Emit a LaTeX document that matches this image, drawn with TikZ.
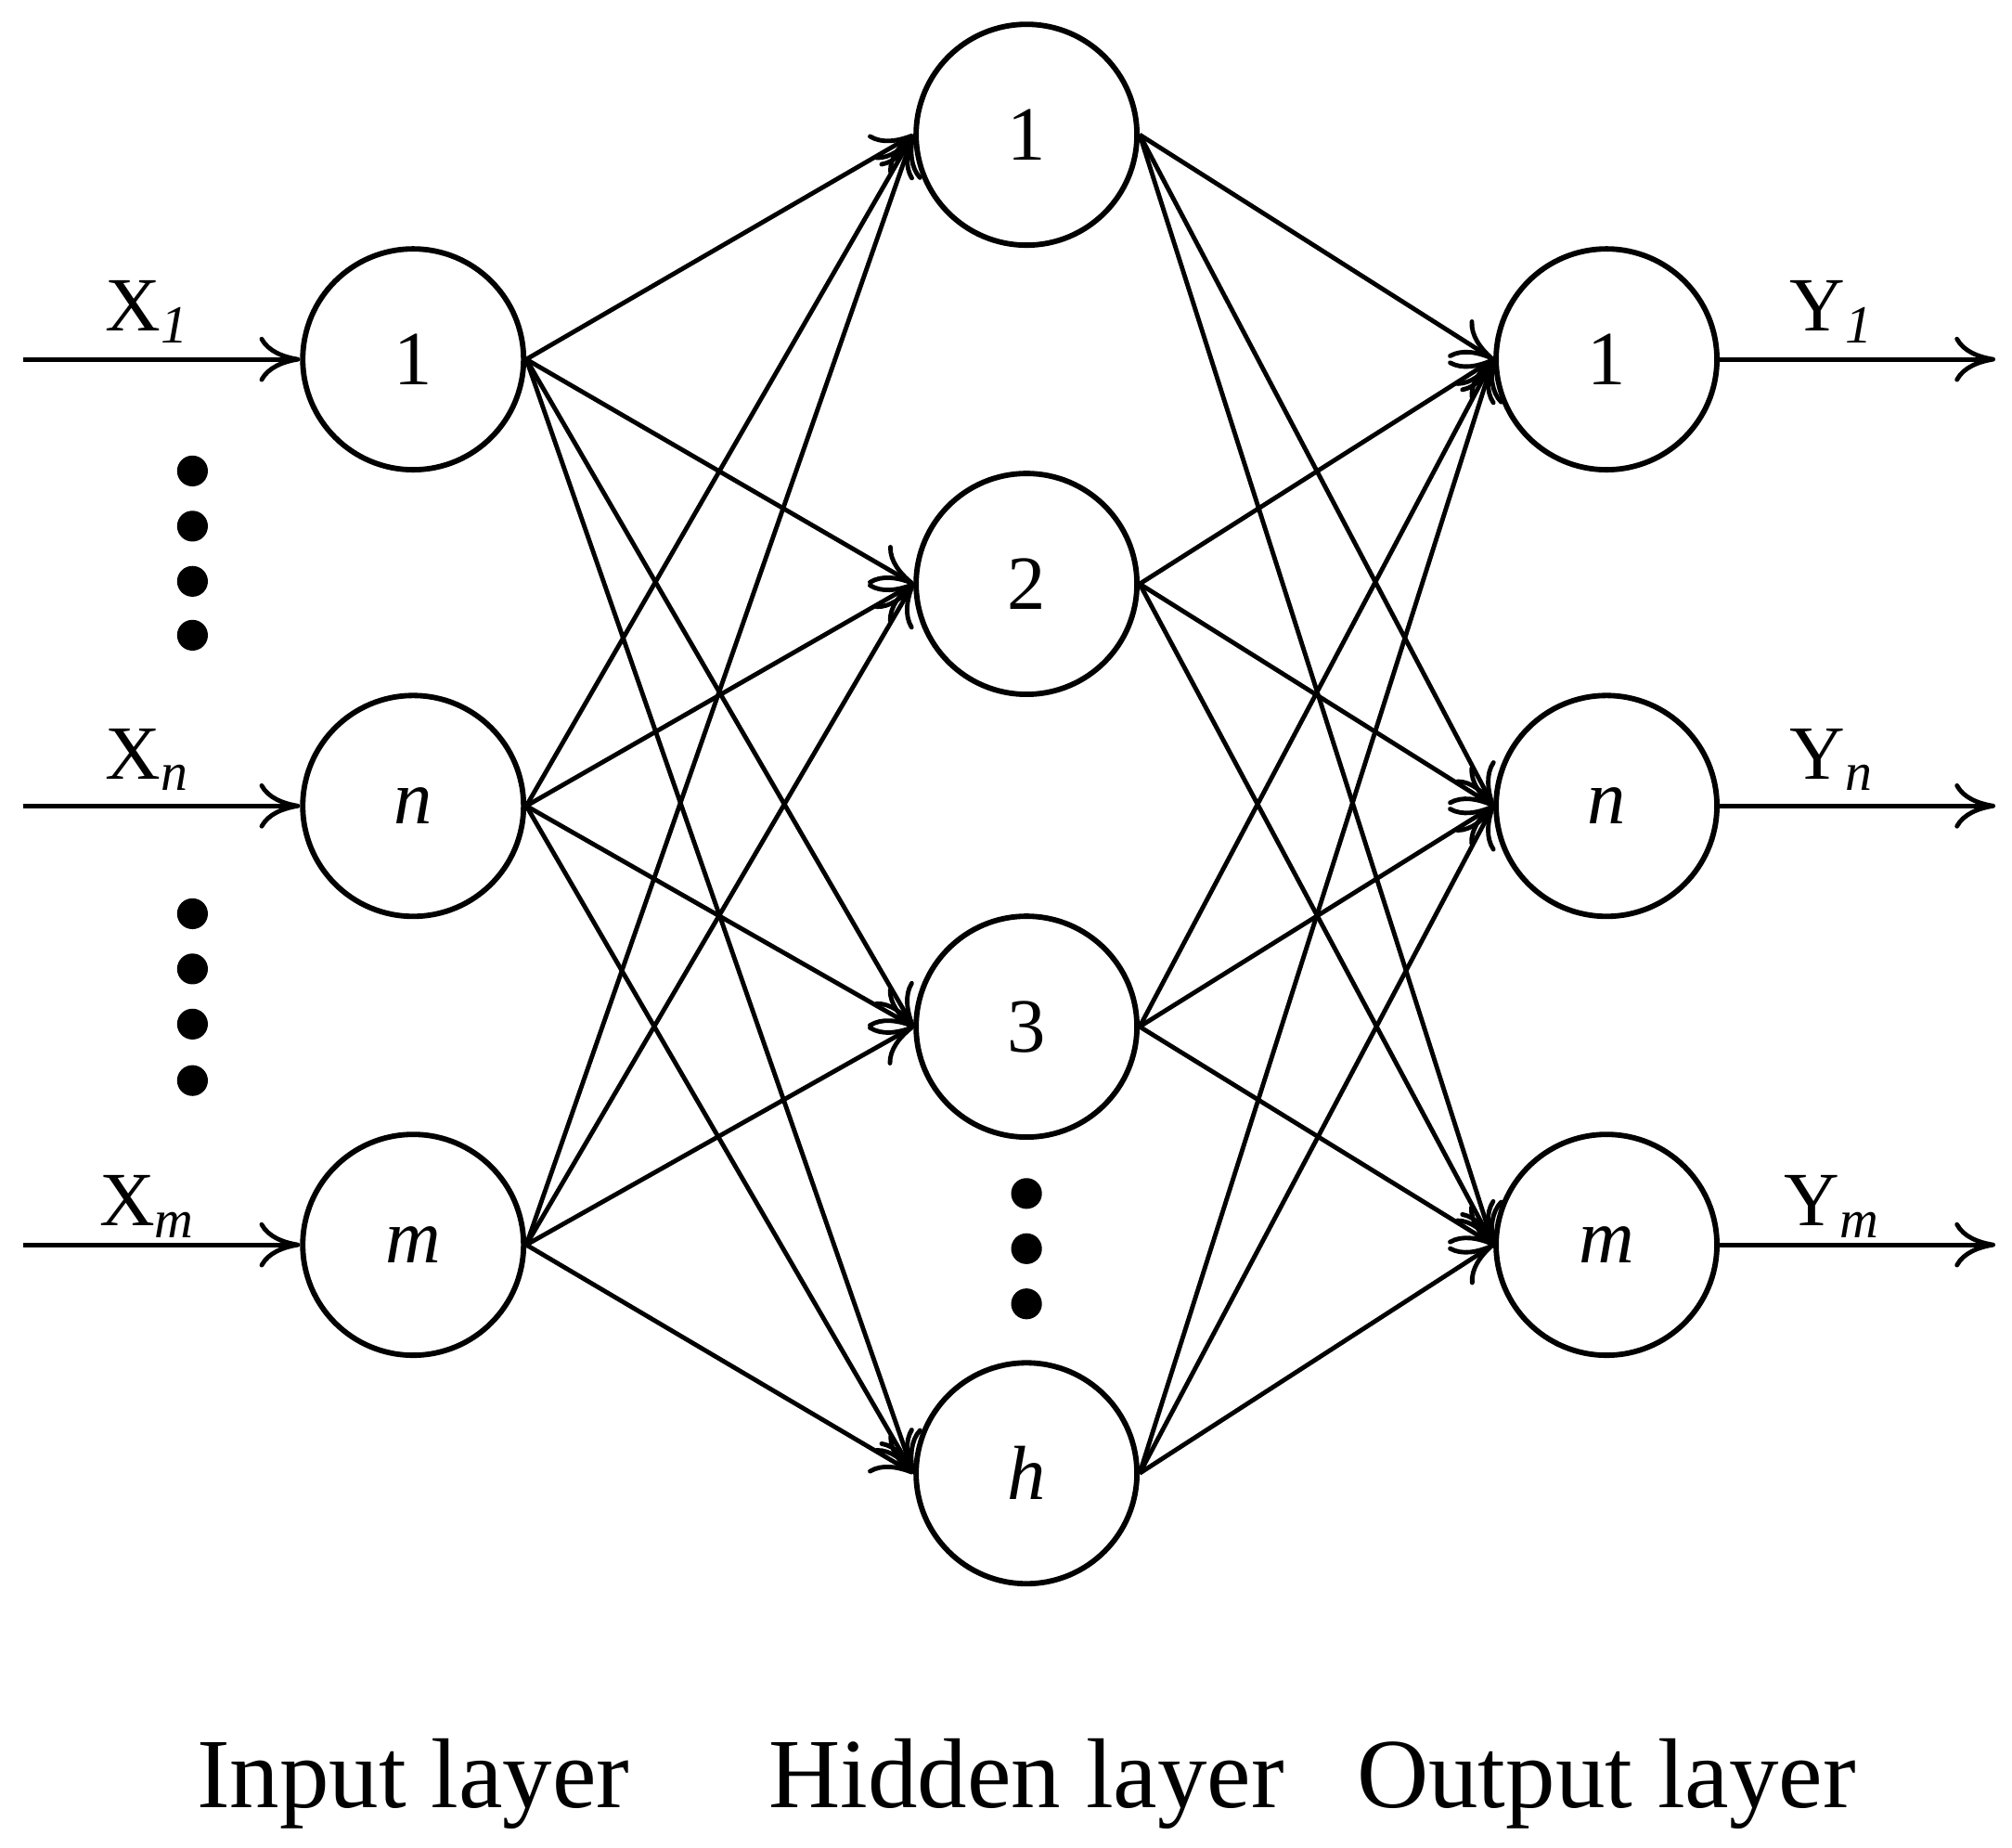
\documentclass[tikz,border=0pt]{standalone}
\usepackage{fontspec}
\setmainfont{Liberation Serif}
\usetikzlibrary{arrows.meta}
\begin{document}
\begin{tikzpicture}[x=0.01cm,y=-0.01cm,
  neuron/.style={circle,draw,line width=1.2pt,minimum size=1.72cm,inner sep=0pt,font=\fontsize{17}{20}\selectfont},
  conn/.style={line width=1pt,-{To[length=9pt,width=10pt]}},
  dot/.style={circle,fill=black,inner sep=0pt,minimum size=0.24cm},
  lbl/.style={font=\fontsize{17}{20}\selectfont},
  layer/.style={font=\fontsize{22}{26}\selectfont}]
\useasboundingbox (0,0) rectangle (1568,1440);
\node[neuron] (i1) at (322,280) {1};
\node[neuron] (i2) at (322,628) {\textit{n}};
\node[neuron] (i3) at (322,970) {\textit{m}};
\node[neuron] (h1) at (800,105) {1};
\node[neuron] (h2) at (800,455) {2};
\node[neuron] (h3) at (800,800) {3};
\node[neuron] (h4) at (800,1148) {\textit{h}};
\node[neuron] (o1) at (1252,280) {1};
\node[neuron] (o2) at (1252,628) {\textit{n}};
\node[neuron] (o3) at (1252,970) {\textit{m}};
\foreach \i in {1,2,3}{\foreach \h in {1,2,3,4}{\draw[conn] (i\i.east) -- (h\h.west);}}
\foreach \h in {1,2,3,4}{\foreach \o in {1,2,3}{\draw[conn] (h\h.east) -- (o\o.west);}}
\coordinate (xa) at (18,280); \coordinate (xb) at (18,628); \coordinate (xc) at (18,970);
\coordinate (ya) at (1555,280); \coordinate (yb) at (1555,628); \coordinate (yc) at (1555,970);
\draw[conn] (xa) -- (i1); \draw[conn] (xb) -- (i2); \draw[conn] (xc) -- (i3);
\draw[conn] (o1) -- (ya); \draw[conn] (o2) -- (yb); \draw[conn] (o3) -- (yc);
\node[lbl] (lx1) at (115,243) {X\textsubscript{\textit{1}}};
\node[lbl] (lx2) at (115,592) {X\textsubscript{\textit{n}}};
\node[lbl] (lx3) at (115,940) {X\textsubscript{\textit{m}}};
\node[lbl] (ly1) at (1428,243) {Y\textsubscript{\textit{1}}};
\node[lbl] (ly2) at (1428,592) {Y\textsubscript{\textit{n}}};
\node[lbl] (ly3) at (1428,940) {Y\textsubscript{\textit{m}}};
\foreach \y [count=\k] in {367,410,453,495,712,755,798,842}{\node[dot] (d\k) at (150,\y) {};}
\foreach \y [count=\k] in {930,973,1016}{\node[dot] (e\k) at (800,\y) {};}
\node[layer] (L1) at (322,1390) {Input layer};
\node[layer] (L2) at (800,1390) {Hidden layer};
\node[layer] (L3) at (1252,1390) {Output layer};
\end{tikzpicture}
\end{document}
